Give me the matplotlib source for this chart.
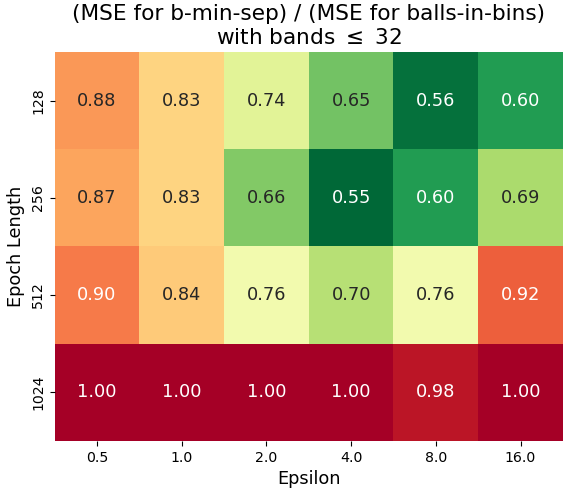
import matplotlib
matplotlib.use("Agg")
import matplotlib.pyplot as plt
import numpy as np
import seaborn as sns

epsilons = ["0.5", "1.0", "2.0", "4.0", "8.0", "16.0"]
epoch_lengths = ["128", "256", "512", "1024"]
row_128 = [0.88, 0.83, 0.74, 0.65, 0.56, 0.60]
row_256 = [0.87, 0.83, 0.66, 0.55, 0.60, 0.69]
row_512 = [0.90, 0.84, 0.76, 0.70, 0.76, 0.92]
row_1024 = [1.00, 1.00, 1.00, 1.00, 0.98, 1.00]

data = np.array([row_128, row_256, row_512, row_1024])

fig = plt.figure(figsize=(5.64, 4.90), dpi=100)
ax = fig.add_axes([0.097, 0.10, 0.901, 0.794])
sns.heatmap(data, ax=ax, cmap="RdYlGn_r", annot=True, fmt=".2f", cbar=False,
            xticklabels=epsilons, yticklabels=epoch_lengths,
            annot_kws={"fontsize": 12.8})
ax.set_xlabel("Epsilon", fontsize=12.8)
ax.set_ylabel("Epoch Length", fontsize=12.8)
ax.tick_params(labelsize=10.2)
ax.set_title("(MSE for b-min-sep) / (MSE for balls-in-bins)\nwith bands $\\leq$ 32", fontsize=15.6)
fig.savefig("out.png", dpi=100)
